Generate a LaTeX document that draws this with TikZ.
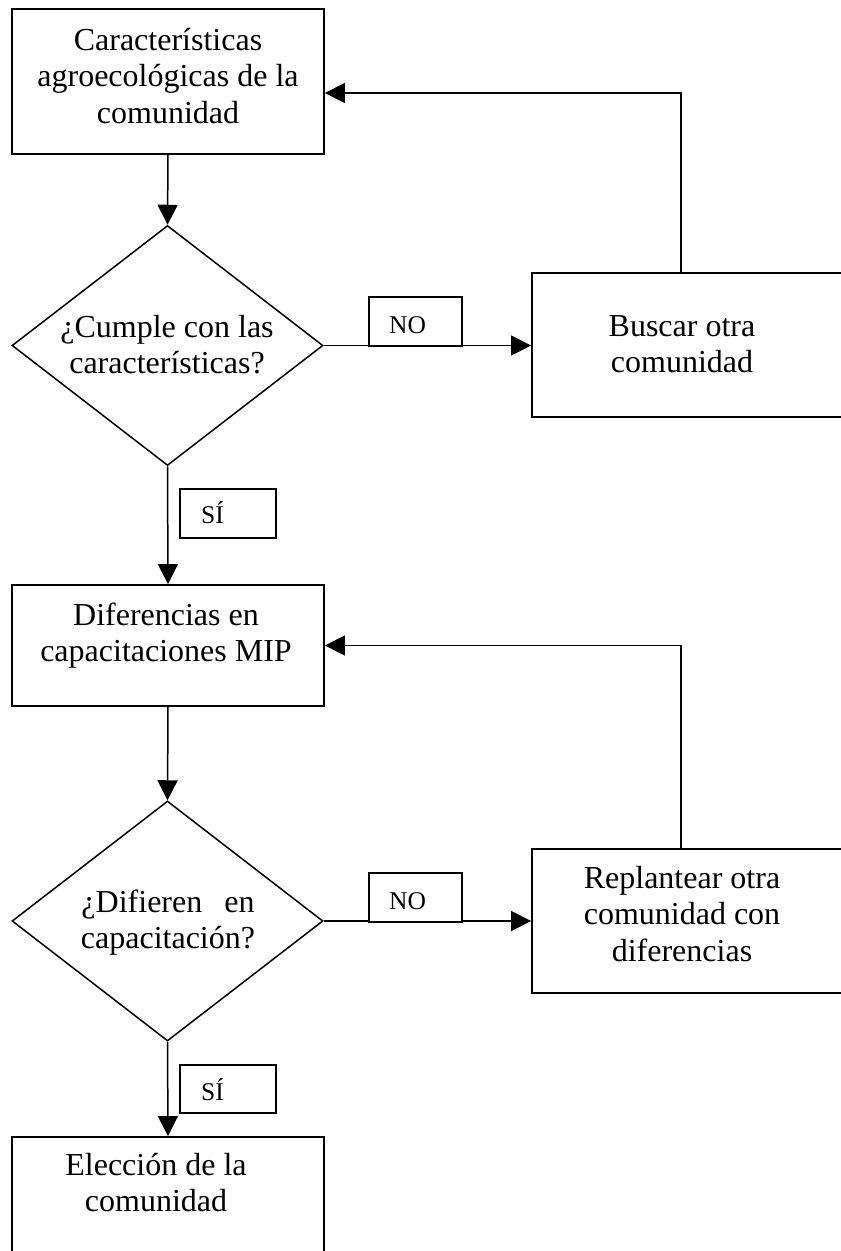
\documentclass[tikz,border=0pt]{standalone}
\usepackage{fontspec}
\setmainfont{Liberation Serif}
\usetikzlibrary{arrows.meta,shapes.geometric}
\newcommand\mainsz{\fontsize{32}{36.7}\selectfont}
\newcommand\lblsz{\fontsize{25.5}{30}\selectfont}
\begin{document}
\begin{tikzpicture}[x=1pt,y=-1pt,
  stepbox/.style={draw,line width=1.8pt,rectangle,inner sep=0pt},
  decide/.style={draw,line width=1.5pt,diamond,inner sep=0pt,minimum width=311pt,minimum height=240pt},
  lblbox/.style={draw,line width=1.6pt,rectangle,inner sep=0pt,minimum width=93pt,minimum height=49pt,fill=white},
  txt/.style={anchor=base,align=center,inner sep=0pt,font=\mainsz},
  lbltxt/.style={anchor=base west,inner sep=0pt,font=\lblsz},
  arr/.style={line width=1.5pt,-{Triangle[length=20pt,width=20pt]}}]
\useasboundingbox (0,0) rectangle (841,1251);
\clip (0,0) rectangle (841,1251);

% boxes
\node[stepbox,minimum width=312pt,minimum height=145pt] (box1) at (168,81.5) {};
\node[decide] (d1) at (167.5,345.5) {};
\node[stepbox,minimum width=338pt,minimum height=144pt] (buscar) at (701,345) {};
\node[stepbox,minimum width=312pt,minimum height=121pt] (box2) at (168,645.5) {};
\node[decide] (d2) at (167.5,921) {};
\node[stepbox,minimum width=338pt,minimum height=144pt] (repl) at (701,921) {};
\node[stepbox,minimum width=312pt,minimum height=160pt] (box3) at (168,1217) {};

% texts (anchor base = baseline of last line)
\node[txt] (t1) at (168,123.4) {Características\\agroecológicas de la\\comunidad};
\node[txt] (t2) at (167,373.7) {¿Cumple con las\\características?};
\node[txt] (t3) at (682,372.7) {Buscar otra\\comunidad};
\node[txt] (t4) at (166,661.7) {Diferencias en\\capacitaciones MIP};
\node[txt] (t5) at (168,948.7) {¿Difieren\hspace{22pt}en\\capacitación?};
\node[txt] (t6) at (682,961.4) {Replantear otra\\comunidad con\\diferencias};
\node[txt] (t7) at (156,1211.7) {Elección de la\\comunidad};

% connectors
\draw[arr] (box1.south) -- (d1.north);
\draw[arr] (d1.south) -- (box2.north);
\draw[arr] (box2.south) -- (d2.north);
\draw[arr] (d2.south) -- (box3.north);
\draw[arr] (d1.east) -- (d1.east -| buscar.west);
\draw[arr] (d2.east) -- (d2.east -| repl.west);
\draw[arr] ([xshift=150pt]buscar.north west) |- ([yshift=-11.5pt]box1.east);
\draw[arr] ([xshift=150pt]repl.north west) |- (box2.east);

% labels
\node[lblbox] (no1) at (415.5,321.5) {};
\node[lbltxt] (no1t) at (389,333) {NO};
\node[lblbox] (no2) at (415.5,897.5) {};
\node[lbltxt] (no2t) at (389,909) {NO};
\node[lblbox,minimum width=96pt] (si1) at (228,513.5) {};
\node[lbltxt] (si1t) at (201,523) {SÍ};
\node[lblbox,minimum width=96pt,minimum height=48pt] (si2) at (228,1089) {};
\node[lbltxt] (si2t) at (201,1100) {SÍ};
\end{tikzpicture}
\end{document}
